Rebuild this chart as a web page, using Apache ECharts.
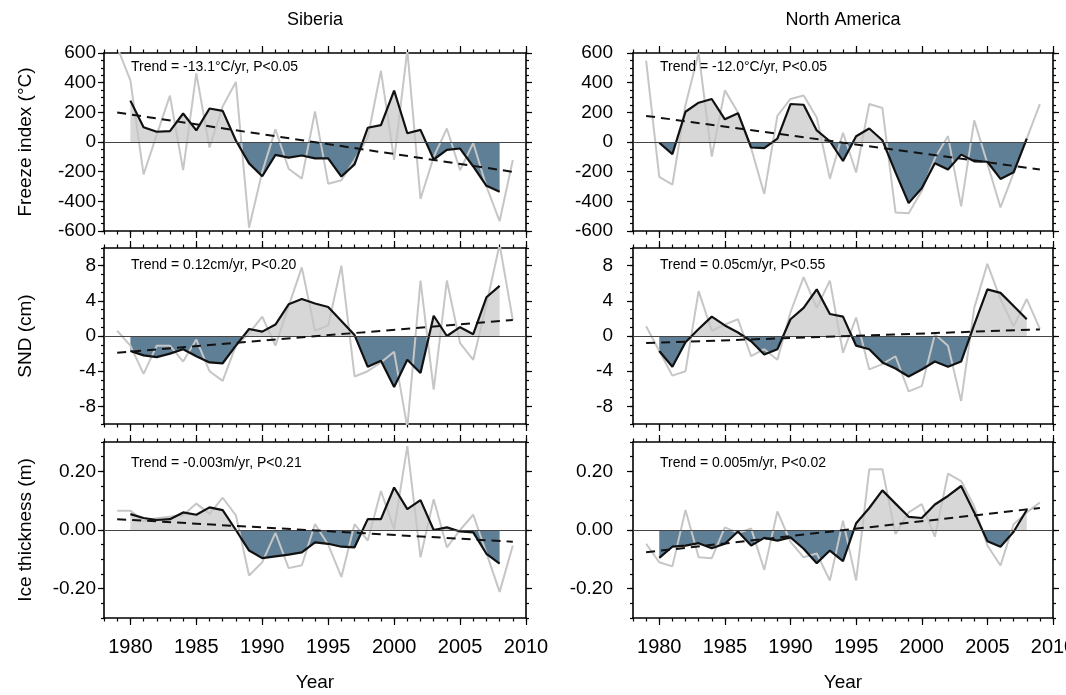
<!DOCTYPE html>
<html><head><meta charset="utf-8">
<script src="https://cdn.jsdelivr.net/npm/echarts@6/dist/echarts.min.js"></script>
<style>html,body{margin:0;padding:0;background:#fff}#c{width:1066px;height:695px}</style>
</head><body><div id="c"></div>
<script>
// ---------- DATA ----------
const years = [1979,1980,1981,1982,1983,1984,1985,1986,1987,1988,1989,1990,1991,1992,1993,1994,1995,1996,1997,1998,1999,2000,2001,2002,2003,2004,2005,2006,2007,2008,2009];
const smoothYears = [1980,1981,1982,1983,1984,1985,1986,1987,1988,1989,1990,1991,1992,1993,1994,1995,1996,1997,1998,1999,2000,2001,2002,2003,2004,2005,2006,2007,2008];
const trendYears = [1979, 2009];
const yearTickLabels = [1980,1985,1990,1995,2000,2005,2010];
const freezeTickLabels = [-600,-400,-200,0,200,400,600];
const sndTickLabels = [-8,-4,0,4,8];
const iceTickLabels = [-0.2,0,0.2];
const columnTitles = ['Siberia','North America'];
const rowNames = ['Freeze index (°C)','SND (cm)','Ice thickness (m)'];
const xName = 'Year';

// Siberia freeze index
const sibFreezeAnnual = [640,416,-219,50,313,-190,462,-37,240,405,-578,-200,85,-180,-247,206,-281,-258,-120,30,480,-121,620,-384,-100,91,-190,-7,-300,-533,-121];
const sibFreezeSmooth = [279,100,69,73,192,78,226,210,10,-144,-231,-87,-105,-91,-110,-110,-233,-151,96,114,347,59,82,-118,-53,-44,-165,-295,-335];
const sibFreezeTrend = [199,-201];
const sibFreezeText = 'Trend = -13.1°C/yr, P<0.05';
// North America freeze index
const naFreezeAnnual = [549,-235,-288,250,600,-98,348,199,-40,-350,176,290,313,165,-247,62,-206,256,229,-475,-480,-330,-110,40,-434,146,-144,-441,-208,23,256];
const naFreezeSmooth = [-5,-82,204,265,290,153,194,-37,-41,23,256,251,78,5,-128,39,91,12,-205,-412,-312,-143,-186,-85,-130,-133,-249,-204,23];
const naFreezeTrend = [176,-185];
const naFreezeText = 'Trend = -12.0°C/yr, P<0.05';
// Siberia SND
const sibSndAnnual = [0.6,-1.1,-4.3,-1.1,-1.1,-2.9,-0.4,-4.0,-5.1,-1.1,0.3,2.2,-1.1,3.4,7.8,0.6,1.2,8.0,-4.6,-4.0,-3.0,-1.8,-10.4,6.3,-6.1,6.3,-0.8,-2.7,3.6,10.4,1.8];
const sibSndSmooth = [-1.7,-2.2,-2.4,-2.0,-1.5,-2.3,-3.0,-3.1,-1.1,0.8,0.5,1.3,3.6,4.2,3.7,3.3,1.7,0.1,-3.5,-2.8,-5.8,-2.7,-4.2,2.3,0.0,1.0,0.2,4.4,5.7];
const sibSndTrend = [-1.9,1.83];
const sibSndText = 'Trend = 0.12cm/yr, P<0.20';
// North America SND
const naSndAnnual = [1.1,-1.7,-4.5,-4.0,5.1,0.6,1.3,1.9,-2.3,-1.5,-2.7,2.7,6.7,3.2,6.3,-1.9,2.1,-3.8,-3.2,-2.3,-6.3,-5.7,0.2,-1.1,-7.4,3.2,8.2,4.2,1.1,4.2,0.8];
const naSndSmooth = [-1.7,-3.5,-0.7,0.8,2.2,1.2,0.4,-0.6,-2.1,-1.5,1.9,3.2,5.3,2.5,2.2,-1.1,-1.5,-3.0,-3.7,-4.6,-3.8,-2.9,-3.5,-2.9,1.3,5.3,4.9,3.4,1.9];
const naSndTrend = [-0.8,0.75];
const naSndText = 'Trend = 0.05cm/yr, P<0.55';
// Siberia ice thickness
const sibIceAnnual = [0.066,0.066,0.03,0.04,0.045,0.05,0.09,0.055,0.11,0.05,-0.155,-0.11,-0.01,-0.13,-0.12,0.02,-0.05,-0.16,0.02,-0.036,0.133,0.003,0.286,-0.093,0.105,-0.059,0.0,0.052,-0.079,-0.211,-0.053];
const sibIceSmooth = [0.054,0.041,0.034,0.037,0.06,0.052,0.077,0.068,0.0,-0.07,-0.096,-0.09,-0.084,-0.076,-0.042,-0.047,-0.057,-0.059,0.037,0.037,0.145,0.071,0.102,0.0,0.009,-0.005,-0.008,-0.081,-0.115];
const sibIceTrend = [0.037,-0.04];
const sibIceText = 'Trend = -0.003m/yr, P<0.21';
// North America ice thickness
const naIceAnnual = [-0.047,-0.11,-0.124,0.068,-0.093,-0.096,0.009,-0.01,0.005,-0.136,0.063,-0.04,-0.093,-0.08,-0.172,0.032,-0.172,0.207,0.207,-0.014,0.06,0.088,-0.023,0.192,0.167,0.08,-0.053,-0.121,0.02,0.06,0.094];
const naIceSmooth = [-0.095,-0.057,-0.053,-0.045,-0.062,-0.047,-0.005,-0.053,-0.027,-0.036,-0.025,-0.064,-0.113,-0.07,-0.106,0.023,0.075,0.135,0.09,0.045,0.041,0.087,0.116,0.15,0.06,-0.038,-0.057,-0.006,0.068];
const naIceTrend = [-0.076,0.075];
const naIceText = 'Trend = 0.005m/yr, P<0.02';

// ---------- LAYOUT / STYLE ----------
const FONT = '"Liberation Sans", Arial, Helvetica, sans-serif';
const BLUE = '#5f7f96', GREYFILL = '#d7d7d7', GREYLINE = '#c6c6c6', BLACK = '#111';
const cols = [{left:104, width:422, labelMargin:8, textX:131, center:315},
              {left:633, width:420, labelMargin:20, textX:660, center:843}];
const rows = [{top:53, height:178, textY:67, nameY:142},
              {top:248, height:176, textY:265, nameY:336},
              {top:442, height:176, textY:463, nameY:530}];
const rowAxis = [
  {min:-600, max:600, step:50, labels:freezeTickLabels, fmt:v=>String(Math.round(v))},
  {min:-10, max:10, step:1, labels:sndTickLabels, fmt:v=>String(Math.round(v))},
  {min:-0.3, max:0.3, step:0.05, labels:iceTickLabels, fmt:v=>(Math.abs(v)<1e-9?0:v).toFixed(2)}
];
const panels = [
  {row:0,col:0,annual:sibFreezeAnnual,smooth:sibFreezeSmooth,trend:sibFreezeTrend,text:sibFreezeText},
  {row:0,col:1,annual:naFreezeAnnual,smooth:naFreezeSmooth,trend:naFreezeTrend,text:naFreezeText},
  {row:1,col:0,annual:sibSndAnnual,smooth:sibSndSmooth,trend:sibSndTrend,text:sibSndText},
  {row:1,col:1,annual:naSndAnnual,smooth:naSndSmooth,trend:naSndTrend,text:naSndText},
  {row:2,col:0,annual:sibIceAnnual,smooth:sibIceSmooth,trend:sibIceTrend,text:sibIceText},
  {row:2,col:1,annual:naIceAnnual,smooth:naIceSmooth,trend:naIceTrend,text:naIceText}
];

const AXLINE = {color:'#000', width:1.6};
const TICK = {color:'#000', width:1.2};
function mkX(g, pos, major, labels){
  const a = {type:'value', gridIndex:g, position:pos, min:1978, max:2010, interval:1,
    axisLine:{show:!major, onZero:false, lineStyle:AXLINE},
    axisTick:{show:true, inside:false, length: major?7:3.5, lineStyle:TICK},
    axisLabel: labels ? {show:true, customValues:yearTickLabels, formatter:v=>String(Math.round(v)), fontSize:20, color:'#000', margin:19, fontFamily:FONT} : {show:false},
    splitLine:{show:false}, minorTick:{show:false}};
  if (major) a.axisTick.customValues = yearTickLabels;
  return a;
}
function mkY(g, pos, major, r, labels, margin){
  const a = {type:'value', gridIndex:g, position:pos, min:r.min, max:r.max, interval:r.step,
    axisLine:{show:!major, onZero:false, lineStyle:AXLINE},
    axisTick:{show:true, inside:false, length: major?6:3, lineStyle:TICK},
    axisLabel: labels ? {show:true, customValues:r.labels, formatter:r.fmt, fontSize:19, color:'#000', margin:margin, fontFamily:FONT} : {show:false},
    splitLine:{show:false}};
  if (major) a.axisTick.customValues = r.labels;
  return a;
}

const grid = [], xAxis = [], yAxis = [], series = [], visualMap = [], graphic = [];
panels.forEach((p, i) => {
  const c = cols[p.col], r = rows[p.row], ra = rowAxis[p.row];
  grid.push({left:c.left, top:r.top, width:c.width, height:r.height, containLabel:false, outerBoundsMode:'none'});
  const bottomRow = p.row === 2;
  xAxis.push(mkX(i,'bottom',false,bottomRow), mkX(i,'bottom',true,false), mkX(i,'top',false,false), mkX(i,'top',true,false));
  yAxis.push(mkY(i,'left',false,ra,true,c.labelMargin), mkY(i,'left',true,ra,false,0), mkY(i,'right',false,ra,false,0), mkY(i,'right',true,ra,false,0));
  const xi = 4*i, yi = 4*i;
  const smoothData = smoothYears.map((y,k)=>[y, p.smooth[k]]);
  // area fill (sign-coloured via visualMap)
  series.push({type:'line', name:'fill'+i, xAxisIndex:xi, yAxisIndex:yi, data:smoothData, showSymbol:false, silent:true,
    lineStyle:{width:0, opacity:0}, areaStyle:{opacity:1}, z:1, animation:false});
  visualMap.push({show:false, type:'piecewise', seriesIndex:series.length-1, dimension:1,
    pieces:[{min:ra.min*2, max:0, color:BLUE},{gt:0, max:ra.max*2, color:GREYFILL}],
    outOfRange:{color:GREYFILL}});
  // annual values
  series.push({type:'line', xAxisIndex:xi, yAxisIndex:yi, data:years.map((y,k)=>[y,p.annual[k]]), showSymbol:false, silent:true,
    lineStyle:{color:GREYLINE, width:2}, itemStyle:{color:GREYLINE}, z:2, animation:false});
  // smoothed values + zero line
  series.push({type:'line', xAxisIndex:xi, yAxisIndex:yi, data:smoothData, showSymbol:false, silent:true,
    lineStyle:{color:BLACK, width:2.2}, itemStyle:{color:BLACK}, z:4, animation:false,
    markLine:{silent:true, symbol:['none','none'], label:{show:false}, animation:false,
      lineStyle:{color:'#444', width:1.2, type:'solid'}, emphasis:{disabled:true}, data:[{yAxis:0}]}});
  // linear trend
  series.push({type:'line', xAxisIndex:xi, yAxisIndex:yi, data:trendYears.map((y,k)=>[y,p.trend[k]]), showSymbol:false, silent:true,
    lineStyle:{color:BLACK, width:2, type:[9,6]}, itemStyle:{color:BLACK}, z:5, animation:false});
  graphic.push({type:'text', x:c.textX, y:r.textY, z:10, style:{text:p.text, fontSize:14, fontFamily:FONT, fill:'#000',
    align:'left', verticalAlign:'middle', textAlign:'left', textVerticalAlign:'middle'}});
});
columnTitles.forEach((t,k)=>{
  graphic.push({type:'text', x:cols[k].center, y:20, style:{text:t, fontSize:18, fontFamily:FONT, fill:'#000',
    align:'center', verticalAlign:'middle', textAlign:'center', textVerticalAlign:'middle'}});
  graphic.push({type:'text', x:cols[k].center, y:683, style:{text:xName, fontSize:19, fontFamily:FONT, fill:'#000',
    align:'center', verticalAlign:'middle', textAlign:'center', textVerticalAlign:'middle'}});
});
rowNames.forEach((t,k)=>{
  graphic.push({type:'text', x:26, y:rows[k].nameY, rotation:Math.PI/2, style:{text:t, fontSize:19, fontFamily:FONT, fill:'#000',
    align:'center', verticalAlign:'middle', textAlign:'center', textVerticalAlign:'middle'}});
});

const chart = echarts.init(document.getElementById('c'), null, {renderer:'canvas'});
chart.setOption({animation:false, backgroundColor:'#fff', grid, xAxis, yAxis, series, visualMap, graphic});
</script></body></html>
